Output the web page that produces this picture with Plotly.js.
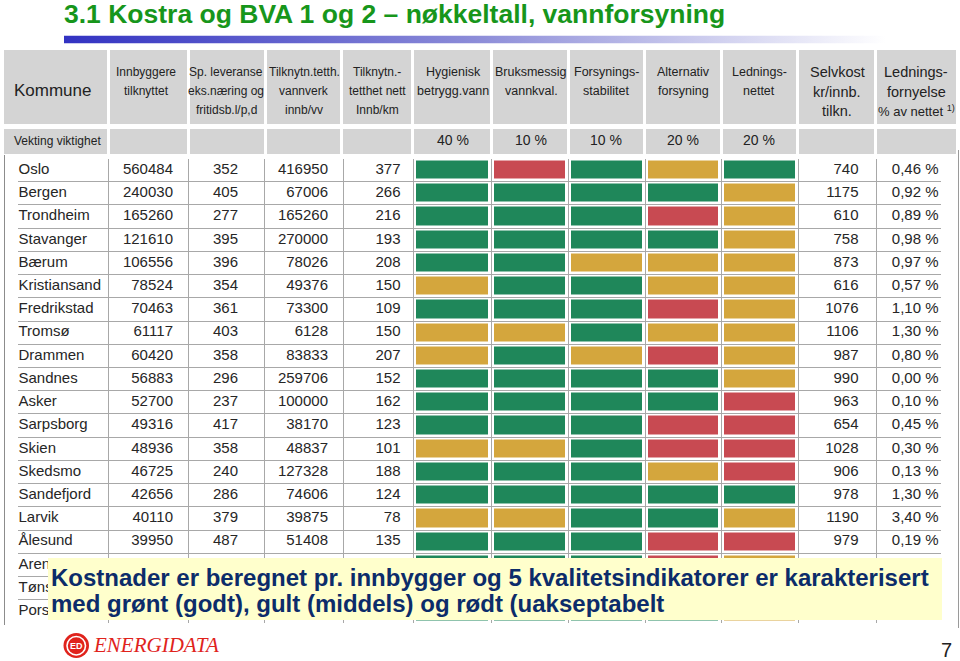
<!DOCTYPE html>
<html><head><meta charset="utf-8">
<script src="https://cdn.plot.ly/plotly-3.0.1.min.js"></script>
<style>html,body{margin:0;padding:0;background:#fff;}#chart{width:960px;height:661px;}</style>
</head><body><div id="chart"></div>
<script>
// ---------------- data ----------------
const kommuner = ["Oslo","Bergen","Trondheim","Stavanger","Bærum","Kristiansand","Fredrikstad","Tromsø","Drammen","Sandnes","Asker","Sarpsborg","Skien","Skedsmo","Sandefjord","Larvik","Ålesund","Arendal","Tønsberg","Porsgrunn"];
const innbyggere = [560484,240030,165260,121610,106556,78524,70463,61117,60420,56883,52700,49316,48936,46725,42656,40110,39950,null,null,null];
const spLeveranse = [352,405,277,395,396,354,361,403,358,296,237,417,358,240,286,379,487,null,null,null];
const tetthetVannverk = [416950,67006,165260,270000,78026,49376,73300,6128,83833,259706,100000,38170,48837,127328,74606,39875,51408,null,null,null];
const tetthetNett = [377,266,216,193,208,150,109,150,207,152,162,123,101,188,124,78,135,null,null,null];
const selvkost = [740,1175,610,758,873,616,1076,1106,987,990,963,654,1028,906,978,1190,979,null,null,null];
const fornyelse = [0.46,0.92,0.89,0.98,0.97,0.57,1.10,1.30,0.80,0.00,0.10,0.45,0.30,0.13,1.30,3.40,0.19,null,null,null];
// G = grønt (godt), Y = gult (middels), R = rødt (uakseptabelt)
const hygienisk    = ["G","G","G","G","G","Y","G","Y","Y","G","G","G","Y","G","G","Y","G","G",null,"G"];
const bruksmessig  = ["R","G","G","G","G","G","G","Y","G","G","G","G","Y","G","G","Y","G","G",null,"G"];
const forsyning    = ["G","G","G","G","Y","G","G","G","Y","G","G","G","G","G","G","G","G","G",null,"G"];
const alternativ   = ["Y","G","R","G","Y","Y","R","Y","R","G","G","R","R","Y","G","G","R","R",null,"G"];
const ledningsnett = ["G","Y","Y","Y","Y","Y","Y","Y","Y","Y","R","R","R","R","G","Y","R","Y",null,"Y"];
const vekting = ["40 %","10 %","10 %","20 %","20 %"];
const headerLabels = [
  ["Innbyggere","tilknyttet"],
  ["Sp. leveranse","eks.næring og","fritidsb.l/p,d"],
  ["Tilknytn.tetth.","vannverk","innb/vv"],
  ["Tilknytn.-","tetthet nett","Innb/km"],
  ["Hygienisk","betrygg.vann"],
  ["Bruksmessig","vannkval."],
  ["Forsynings-","stabilitet"],
  ["Alternativ","forsyning"],
  ["Lednings-","nettet"],
  ["Selvkost","kr/innb.","tilkn."],
  ["Lednings-","fornyelse","% av nettet <sup>1)</sup>"]
];
const titleText = "3.1 Kostra og BVA 1 og 2 – nøkkeltall, vannforsyning";
const noteLines = ["Kostnader er beregnet pr. innbygger og 5 kvalitetsindikatorer er karakterisert",
                   "med grønt (godt), gult (middels) og rødt (uakseptabelt"];

// ---------------- layout geometry (pixels) ----------------
const W = 960, H = 661;
const headerEdges = [3,108.5,188.5,265.5,342,412.5,491.5,568.5,644.5,721.5,798,875.5,957.5];
const headerRowEdges = [50,123.5,128.5,153.5];
const headerCenters = [146,226,304,377,453,531,606,683,759,837,916];
const bodyGrid = [108,188,264,343,413,491,568,645,721,798,876];
const indicatorEdges = [413,491,568,645,721,798];
const bodyTop = 158.5, bodyBottom = 623, bodyLeft = 18, bodyRight = 941;
const gridColor = '#a8a8a8';
const GREEN = '#1f875a', YELLOW = '#d4a63d', RED = '#c84a52', HEADGRAY = '#d4d4d4';

const gradeCode = {G:0, Y:1, R:2};
const indicators = [hygienisk, bruksmessig, forsyning, alternativ, ledningsnett];
const zGrades = kommuner.map((k,i)=>indicators.map(col => col[i]==null ? null : gradeCode[col[i]]));

const fmtInt = v => String(v);
const fmtPct = v => v.toFixed(2).replace('.',',') + ' %';
const bodyFont = {family:'Liberation Sans, Arial, sans-serif', size:15, color:'#262626'};

function textCol(xAnchor, values, fmt, pos){
  const idx = values.map((v,i)=>v==null?-1:i).filter(i=>i>=0);
  return {type:'scatter', mode:'text', x:idx.map(()=>xAnchor), y:idx.map(i=>kommuner[i]), text:idx.map(i=>fmt(values[i])),
          textposition:pos, textfont:bodyFont, hoverinfo:'skip', showlegend:false, xaxis:'x', yaxis:'y'};
}

const traces = [
  // header grey cells
  {type:'heatmap', x:headerEdges, y:headerRowEdges,
   z:[headerEdges.slice(1).map(()=>1), headerEdges.slice(1).map(()=>null), headerEdges.slice(1).map(()=>1)],
   colorscale:[[0,HEADGRAY],[1,HEADGRAY]], zmin:0, zmax:1, showscale:false, xgap:3, ygap:0,
   hoverinfo:'skip', xaxis:'x2', yaxis:'y2'},
  // quality indicator bars
  {type:'heatmap', x:indicatorEdges, y:kommuner, z:zGrades, zmin:0, zmax:2,
   colorscale:[[0,GREEN],[0.333,GREEN],[0.334,YELLOW],[0.666,YELLOW],[0.667,RED],[1,RED]],
   showscale:false, xgap:6, ygap:5, hoverinfo:'skip', xaxis:'x', yaxis:'y'},
  textCol(18.5, kommuner, v=>v, 'middle right'),
  textCol(173, innbyggere, fmtInt, 'middle left'),
  textCol(238, spLeveranse, fmtInt, 'middle left'),
  textCol(328, tetthetVannverk, fmtInt, 'middle left'),
  textCol(400.5, tetthetNett, fmtInt, 'middle left'),
  textCol(858.5, selvkost, fmtInt, 'middle left'),
  textCol(938.5, fornyelse, fmtPct, 'middle left')
];

const annotations = [];
const hdrFont = (s)=>({family:'Liberation Sans, Arial, sans-serif', size:s, color:'#222'});
annotations.push({xref:'x2', yref:'y2', x:12, y:90, xanchor:'left', yanchor:'middle', text:'Kommune', showarrow:false, font:hdrFont(17)});
annotations.push({xref:'x2', yref:'y2', x:12, y:141, xanchor:'left', yanchor:'middle', text:'Vekting viktighet', showarrow:false, font:hdrFont(12)});
headerLabels.forEach((lines, c)=>{
  const big = c >= 9;
  lines.forEach((t, li)=>{
    let size = big ? 14.5 : (c>=4 ? 12.5 : 12);
    if (c === 10 && li === 2) size = 13;
    annotations.push({xref:'x2', yref:'y2', x:headerCenters[c], y:72 + li*(big?19.5:19), xanchor:'center', yanchor:'middle',
      text:t, showarrow:false, font:hdrFont(size)});
  });
});
vekting.forEach((v,i)=>{
  annotations.push({xref:'x2', yref:'y2', x:headerCenters[4+i], y:140, xanchor:'center', yanchor:'middle', text:v, showarrow:false, font:hdrFont(14)});
});
noteLines.forEach((t,i)=>{
  annotations.push({xref:'x2', yref:'y2', x:49, y:577 + i*26, xanchor:'left', yanchor:'middle', text:'<b>'+t+'</b>', showarrow:false,
    font:{family:'Liberation Sans, Arial, sans-serif', size:24, color:'#0c2c6a'}});
});
annotations.push({xref:'x2', yref:'y2', x:91, y:644.5, xanchor:'left', yanchor:'middle', text:'<i>ENERGIDATA</i>', showarrow:false,
  font:{family:'Liberation Serif, Times New Roman, serif', size:21, color:'#e0231c'}});
annotations.push({xref:'x2', yref:'y2', x:76.2, y:645.5, xanchor:'center', yanchor:'middle', text:'<b>ED</b>', showarrow:false,
  font:{family:'Liberation Sans, Arial, sans-serif', size:9, color:'#ffffff'}});
annotations.push({xref:'x2', yref:'y2', x:946, y:650, xanchor:'center', yanchor:'middle', text:'7', showarrow:false,
  font:{family:'Liberation Sans, Arial, sans-serif', size:20, color:'#222'}});

const shapes = [
  {type:'line', xref:'x2', yref:'y2', x0:4.5, x1:4.5, y0:155, y1:625, line:{color:'#8c8c8c', width:1}},
  {type:'line', xref:'x2', yref:'y2', x0:958.5, x1:958.5, y0:150, y1:628, line:{color:'#9a9a9a', width:1}},
  {type:'rect', xref:'x2', yref:'y2', x0:48, x1:942, y0:558, y1:620, fillcolor:'#ffffcc', line:{width:0}, layer:'above'},
  {type:'circle', xref:'x2', yref:'y2', x0:63.5, x1:89, y0:633, y1:658, fillcolor:'#e0231c', line:{width:0}, layer:'above'},
  {type:'circle', xref:'x2', yref:'y2', x0:67, x1:85.5, y0:636.5, y1:655, line:{color:'#ffffff', width:1.6}, layer:'above'}
];

const gradSvg = "<svg xmlns='http://www.w3.org/2000/svg' width='400' height='10' preserveAspectRatio='none'>" +
  "<defs><linearGradient id='g' x1='0' x2='1' y1='0' y2='0'><stop offset='0' stop-color='#3232c2'/><stop offset='0.5' stop-color='#8c8cd8'/><stop offset='1' stop-color='#ffffff'/></linearGradient></defs>" +
  "<rect width='400' height='10' fill='url(#g)'/></svg>";

const layout = {
  width:W, height:H, margin:{l:0,r:0,t:0,b:0}, paper_bgcolor:'#ffffff', plot_bgcolor:'rgba(0,0,0,0)',
  showlegend:false,
  title:{text:'<b>'+titleText+'</b>', x:64/W, xanchor:'left', xref:'paper', y:1-14/H, yanchor:'middle', yref:'container',
         font:{family:'Liberation Sans, Arial, sans-serif', size:26.5, color:'#17961b'}},
  xaxis:{domain:[bodyLeft/W, bodyRight/W], range:[bodyLeft, bodyRight], tickmode:'array', tickvals:bodyGrid,
         showgrid:true, gridcolor:gridColor, gridwidth:1, showticklabels:false, ticks:'', zeroline:false, showline:false, fixedrange:true},
  yaxis:{domain:[1-bodyBottom/H, 1-bodyTop/H], type:'category', categoryorder:'array', categoryarray:kommuner,
         range:[kommuner.length-0.5, -0.5], tickson:'boundaries', showgrid:true, gridcolor:gridColor, gridwidth:1,
         showticklabels:false, ticks:'', zeroline:false, showline:false, fixedrange:true},
  xaxis2:{domain:[0,1], range:[0,W], anchor:'y2', visible:false, fixedrange:true},
  yaxis2:{domain:[0,1], range:[H,0], anchor:'x2', visible:false, fixedrange:true},
  images:[{source:'data:image/svg+xml;charset=utf-8,'+encodeURIComponent(gradSvg), xref:'x2', yref:'y2',
           x:64, y:35.5, sizex:822, sizey:8, sizing:'stretch', xanchor:'left', yanchor:'top', layer:'below'}],
  annotations:annotations, shapes:shapes
};

Plotly.newPlot('chart', traces, layout, {staticPlot:true, displayModeBar:false});
</script></body></html>
